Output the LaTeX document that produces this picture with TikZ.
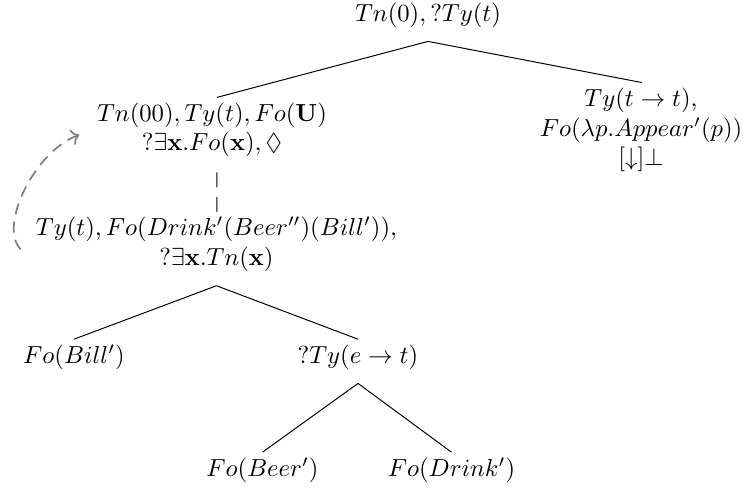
\documentclass[tikz,border=0pt]{standalone}
\usepackage{amsmath,amssymb}
\usetikzlibrary{arrows.meta}
\begin{document}
\begin{tikzpicture}[x=0.405pt,y=-0.405pt,
  tn/.style={align=center, inner sep=2pt},
  treeedge/.style={draw=black, line width=0.4pt},
  dashedge/.style={draw=black, line width=0.4pt, dash pattern=on 6pt off 4pt, shorten <=4pt},
  backarrow/.style={draw=gray, line width=0.7pt, dash pattern=on 4.5pt off 3pt, ->}]
\useasboundingbox (0,0) rectangle (745,489);
\node[tn] (root) at (428,15) {$Tn(0), ?Ty(t)$};
\node[tn] (L) at (212,130) {$Tn(00), Ty(t), Fo(\mathbf{U})$\\$?\exists\mathbf{x}.Fo(\mathbf{x}), \Diamond$};
\node[tn] (R) at (641,130) {$Ty(t\rightarrow t),$\\$Fo(\lambda p.Appear'(p))$\\$[\downarrow]\bot$};
\node[tn] (D) at (216.5,244.5) {$Ty(t), Fo(Drink'(Beer'')(Bill')),$\\$?\exists\mathbf{x}.Tn(\mathbf{x})$};
\node[tn] (B) at (74,357) {$Fo(Bill')$};
\node[tn] (E) at (358,357) {$?Ty(e\rightarrow t)$};
\node[tn] (Be) at (262.5,470) {$Fo(Beer')$};
\node[tn] (Dr) at (451.5,470) {$Fo(Drink')$};
\draw[treeedge] ([yshift=-3.5pt]root.south) -- ([xshift=2pt]L.north);
\draw[treeedge] ([yshift=-3.5pt]root.south) -- ([xshift=0.4pt]R.north);
\draw[dashedge] ([xshift=2pt]L.south) -- ([xshift=0.2pt]D.north);
\draw[treeedge] ([yshift=-3.5pt]D.south) -- (B.north);
\draw[treeedge] ([yshift=-3.5pt]D.south) -- (E.north);
\draw[treeedge] ([yshift=-3.5pt]E.south) -- (Be.north);
\draw[treeedge] ([yshift=-3.5pt]E.south) -- (Dr.north);
\draw[backarrow] ([xshift=-4pt,yshift=-2pt]D.west) .. controls +(-23,-24.5) and +(-43,15) .. ([xshift=-5pt,yshift=-2pt]L.west);
\end{tikzpicture}
\end{document}
